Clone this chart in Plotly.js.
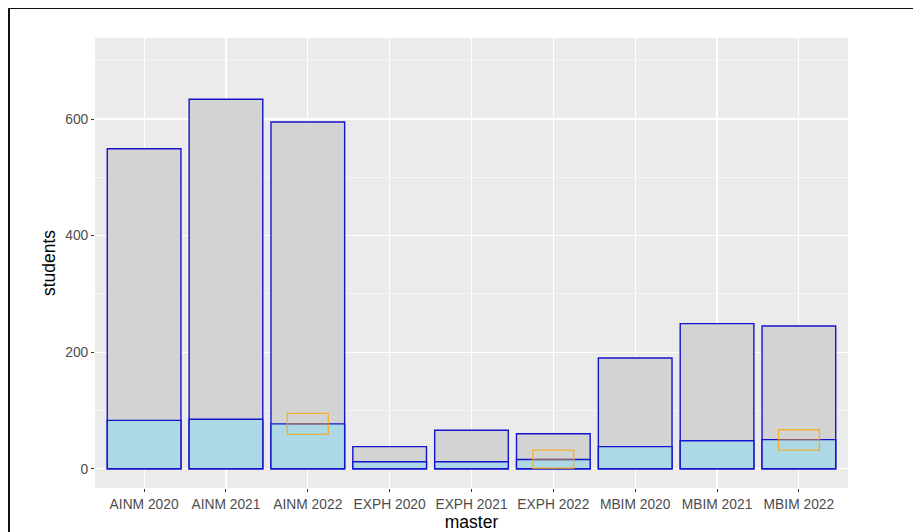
<!DOCTYPE html>
<html>
<head>
<meta charset="utf-8">
<script src="https://cdn.plot.ly/plotly-3.0.1.min.js"></script>
<style>
  html, body { margin: 0; padding: 0; background: #fff; }
  #chart { width: 913px; height: 532px; }
  #frame { position: absolute; left: 8px; top: 8px; width: 905px; height: 524px;
           border-top: 1.5px solid #111; border-left: 2px solid #111; pointer-events: none; }
</style>
</head>
<body>
<div id="chart"></div>
<div id="frame"></div>
<script>
const masters = ["AINM 2020", "AINM 2021", "AINM 2022", "EXPH 2020", "EXPH 2021", "EXPH 2022", "MBIM 2020", "MBIM 2021", "MBIM 2022"];
const applicants = [549, 634, 595, 38, 66, 60, 190, 249, 245];
const admitted = [83, 85, 77, 12, 12, 16, 38, 48, 50];
// crossbar estimates (only for 2022 cohorts)
const crossMasters = ["AINM 2022", "EXPH 2022", "MBIM 2022"];
const crossMid = [77, 16, 50];
const crossLow = [59, 1, 32];
const crossHigh = [95, 32, 67];

const idx = masters.map((m, i) => i);
const crossIdx = crossMasters.map(m => masters.indexOf(m));
const blue = "#1414CC";
const orange = "rgba(255,165,0,0.75)";
const halfW = 0.25;

const traces = [
  { type: "bar", x: idx, y: applicants, width: 0.9,
    marker: { color: "#D3D3D3", line: { color: blue, width: 1.4 } }, hoverinfo: "x+y" },
  { type: "bar", x: idx, y: admitted, width: 0.9,
    marker: { color: "#ADD8E6", line: { color: blue, width: 1.4 } }, hoverinfo: "x+y" },
  { type: "bar", x: crossIdx, base: crossLow, y: crossHigh.map((h, i) => h - crossLow[i]), width: 2 * halfW,
    marker: { color: "rgba(0,0,0,0)", line: { color: orange, width: 1.4 } }, hoverinfo: "skip" }
];
// crossbar middle lines
const mx = [], my = [];
crossIdx.forEach((c, i) => { mx.push(c - halfW, c + halfW, null); my.push(crossMid[i], crossMid[i], null); });
traces.push({ type: "scatter", mode: "lines", x: mx, y: my,
  line: { color: "rgba(255,165,0,0.5)", width: 1.4 }, hoverinfo: "skip" });

const layout = {
  width: 913, height: 532,
  margin: { l: 95, r: 65, t: 38, b: 44 },
  paper_bgcolor: "#FFFFFF", plot_bgcolor: "#EBEBEB",
  barmode: "overlay", showlegend: false,
  font: { family: "Arial, 'Liberation Sans', sans-serif", size: 13.8, color: "#4D4D4D" },
  xaxis: {
    range: [-0.6, 8.6], tickvals: idx, ticktext: masters,
    showgrid: true, gridcolor: "#FFFFFF", gridwidth: 1.1, zeroline: false, showline: false,
    ticks: "outside", ticklen: 3, tickcolor: "#333333", tickwidth: 1,
    tickfont: { size: 13.8, color: "#4D4D4D" },
    title: { text: "master", font: { size: 17.5, color: "#000000" }, standoff: 2 }
  },
  yaxis: {
    range: [-33, 739], tickvals: [0, 200, 400, 600],
    showgrid: true, gridcolor: "#FFFFFF", gridwidth: 1.1, zeroline: false, showline: false,
    ticks: "outside", ticklen: 3, tickcolor: "#333333", tickwidth: 1,
    tickfont: { size: 13.8, color: "#4D4D4D" },
    minor: { tickvals: [100, 300, 500, 700], showgrid: true, gridcolor: "#FFFFFF", gridwidth: 0.5, ticks: "" },
    title: { text: "students", font: { size: 17.5, color: "#000000" }, standoff: 5 }
  }
};
Plotly.newPlot("chart", traces, layout, { displayModeBar: false, staticPlot: true });
</script>
</body>
</html>
